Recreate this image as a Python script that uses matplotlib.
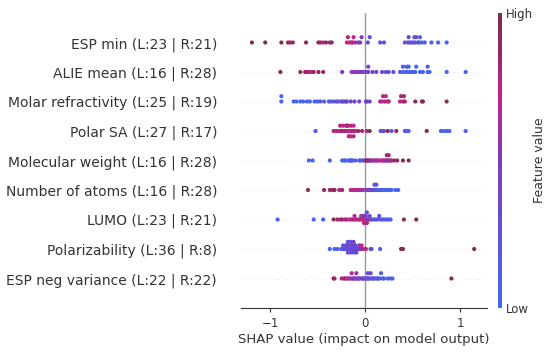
import numpy as np
import matplotlib
matplotlib.use("Agg")
import matplotlib.pyplot as plt
from matplotlib.colors import LinearSegmentedColormap

# noms des variables, du haut vers le bas
features = ["ESP min (L:23 | R:21)", "ALIE mean (L:16 | R:28)", "Molar refractivity (L:25 | R:19)",
            "Polar SA (L:27 | R:17)", "Molecular weight (L:16 | R:28)", "Number of atoms (L:16 | R:28)",
            "LUMO (L:23 | R:21)", "Polarizability (L:36 | R:8)", "ESP neg variance (L:22 | R:22)"]

shap_esp_min = [-1.19, -1.05, -0.88, -0.81, -0.79, -0.76, -0.62, -0.49, -0.47, -0.44, -0.41, -0.37, -0.35,
                -0.19, -0.18, -0.16, -0.14, -0.13, -0.12, -0.10, -0.07, -0.05, -0.035,
                0.03, 0.05, 0.16, 0.20, 0.42, 0.45, 0.46, 0.47, 0.49, 0.51, 0.52, 0.53, 0.54, 0.56, 0.57,
                0.58, 0.60, 0.63, 0.70, 0.77, 0.86]
val_esp_min = [0.95, 0.95, 0.95, 0.9, 0.85, 0.9, 0.95, 0.9, 0.85, 0.8, 0.9, 0.85, 0.9,
               0.75, 0.8, 0.75, 0.7, 0.75, 0.7, 0.6, 0.5, 0.55, 0.45,
               0.35, 0.3, 0.3, 0.35, 0.3, 0.25, 0.35, 0.3, 0.2, 0.3, 0.2, 0.25, 0.3, 0.15, 0.2,
               0.15, 0.1, 0.1, 0.05, 0.05, 0.02]

shap_alie = [-0.89, -0.68, -0.63, -0.61, -0.58, -0.55, -0.54, -0.49, -0.44, -0.24, -0.14, -0.11, -0.09,
             -0.06, -0.04, -0.02,
             0.01, 0.035, 0.035, 0.08, 0.12, 0.18, 0.22, 0.25, 0.30, 0.37, 0.40, 0.40, 0.43, 0.44, 0.45,
             0.46, 0.48, 0.50, 0.51, 0.53, 0.54, 0.58, 0.61, 0.66, 0.66, 0.68, 0.86, 1.06]
val_alie = [0.95, 0.9, 0.8, 0.85, 0.8, 0.8, 0.85, 0.9, 0.85, 0.5, 0.6, 0.55, 0.5,
            0.5, 0.45, 0.5,
            0.4, 0.45, 0.4, 0.4, 0.35, 0.35, 0.3, 0.35, 0.3, 0.25, 0.1, 0.15, 0.1, 0.15, 0.1,
            0.05, 0.1, 0.1, 0.05, 0.1, 0.05, 0.05, 0.1, 0.05, 0.1, 0.05, 0.05, 0.05]

shap_molar = [-0.88, -0.88, -0.75, -0.72, -0.68, -0.65, -0.61, -0.58, -0.53, -0.50, -0.47, -0.43, -0.38,
              -0.36, -0.33, -0.30, -0.28, -0.25, -0.24, -0.22, -0.20, -0.19, -0.15, -0.11, -0.06,
              0.01, 0.02, 0.05, 0.16, 0.18, 0.19, 0.21, 0.22, 0.24, 0.25, 0.37, 0.38, 0.40, 0.41, 0.42,
              0.53, 0.60, 0.61, 0.86]
val_molar = [0.05, 0.05, 0.05, 0.05, 0.1, 0.05, 0.1, 0.1, 0.05, 0.1, 0.1, 0.15, 0.1,
             0.15, 0.2, 0.25, 0.3, 0.35, 0.3, 0.35, 0.4, 0.35, 0.4, 0.45, 0.4,
             0.5, 0.45, 0.45, 0.7, 0.75, 0.72, 0.75, 0.7, 0.8, 0.75, 0.75, 0.8, 0.78, 0.82, 0.8,
             0.95, 0.9, 0.95, 0.95]

shap_polar = [-0.52, -0.33, -0.30, -0.27, -0.26, -0.25, -0.24, -0.23, -0.22, -0.21, -0.20, -0.19, -0.19,
              -0.18, -0.18, -0.17, -0.16, -0.15, -0.15, -0.14, -0.13, -0.12, -0.12, -0.11, -0.10, -0.07,
              -0.03,
              0.02, 0.05, 0.165, 0.175, 0.20, 0.24, 0.28, 0.33, 0.42, 0.44, 0.46, 0.65, 0.80, 0.83, 0.86,
              0.89, 1.06]
val_polar = [0.2, 0.7, 0.8, 0.75, 0.8, 0.75, 0.85, 0.7, 0.8, 0.75, 0.7, 0.8, 0.75,
             0.7, 0.8, 0.75, 0.7, 0.78, 0.72, 0.75, 0.8, 0.7, 0.75, 0.8, 0.75, 0.85,
             0.85,
             0.75, 0.95, 0.3, 0.2, 0.4, 0.95, 0.2, 0.9, 0.15, 0.1, 0.15, 0.95, 0.1, 0.05, 0.1,
             0.05, 0.05]

shap_mw = [-0.59, -0.55, -0.37, -0.24, -0.22, -0.21, -0.18, -0.16, -0.15, -0.14, -0.13, -0.10, -0.06,
           -0.05, -0.03, -0.01,
           0.01, 0.02, 0.03, 0.04, 0.05, 0.06, 0.08, 0.09, 0.105, 0.12, 0.13, 0.14, 0.16, 0.18, 0.19,
           0.21, 0.22, 0.23, 0.23, 0.24, 0.25, 0.25, 0.27, 0.28, 0.31, 0.34, 0.40, 0.46]
val_mw = [0.05, 0.05, 0.05, 0.1, 0.05, 0.1, 0.1, 0.05, 0.1, 0.15, 0.1, 0.15, 0.1,
          0.2, 0.15, 0.25,
          0.95, 0.9, 0.6, 0.95, 0.55, 0.9, 0.5, 0.6, 0.55, 0.6, 0.65, 0.55, 0.7, 0.75, 0.7,
          0.8, 0.4, 0.75, 0.85, 0.8, 0.45, 0.8, 0.85, 0.8, 0.9, 0.85, 0.95, 0.95]

shap_atoms = [-0.60, -0.43, -0.37, -0.34, -0.32, -0.27, -0.24, -0.15, -0.13, -0.11, -0.09, -0.08, -0.06,
              -0.04, -0.03, -0.02,
              0.01, 0.02, 0.03, 0.04, 0.05, 0.06, 0.07, 0.08, 0.09, 0.10, 0.10, 0.11, 0.12, 0.12, 0.13,
              0.14, 0.15, 0.16, 0.17, 0.18, 0.20, 0.21, 0.23, 0.25, 0.26, 0.28, 0.32, 0.35]
val_atoms = [0.95, 0.9, 0.85, 0.85, 0.9, 0.8, 0.85, 0.7, 0.75, 0.7, 0.75, 0.65, 0.7,
             0.6, 0.65, 0.6,
             0.55, 0.5, 0.5, 0.45, 0.45, 0.4, 0.35, 0.4, 0.3, 0.25, 0.2, 0.3, 0.2, 0.25, 0.2,
             0.15, 0.2, 0.15, 0.1, 0.15, 0.1, 0.1, 0.05, 0.1, 0.05, 0.1, 0.05, 0.05]

shap_lumo = [-0.92, -0.54, -0.44, -0.33, -0.29, -0.26, -0.24, -0.21, -0.19, -0.16, -0.14, -0.12, -0.11,
             -0.10, -0.08, -0.06, -0.05, -0.04, -0.03, -0.03, -0.02, -0.01, -0.01,
             0.01, 0.01, 0.02, 0.02, 0.03, 0.04, 0.05, 0.06, 0.08, 0.10, 0.12, 0.14, 0.15, 0.17, 0.19,
             0.21, 0.23, 0.25, 0.27, 0.41, 0.54]
val_lumo = [0.05, 0.05, 0.1, 0.9, 0.85, 0.8, 0.85, 0.75, 0.8, 0.7, 0.75, 0.8, 0.7,
            0.75, 0.8, 0.7, 0.75, 0.8, 0.75, 0.35, 0.7, 0.8, 0.75,
            0.75, 0.4, 0.8, 0.3, 0.35, 0.75, 0.3, 0.35, 0.3, 0.25, 0.3, 0.2, 0.25, 0.2, 0.15,
            0.2, 0.15, 0.1, 0.15, 0.95, 0.95]

shap_polariz = [-0.37, -0.32, -0.29, -0.25, -0.24, -0.23, -0.22, -0.21, -0.20, -0.19, -0.19, -0.18, -0.18,
                -0.17, -0.16, -0.16, -0.15, -0.15, -0.14, -0.14, -0.13, -0.13, -0.12, -0.12, -0.11, -0.11,
                -0.10, -0.10, -0.09, -0.08, -0.07, -0.06, -0.05, -0.04, -0.035, -0.02,
                0.01, 0.06, 0.07, 0.16, 0.38, 0.39, 0.40, 1.15]
val_polariz = [0.05, 0.05, 0.1, 0.15, 0.1, 0.2, 0.25, 0.3, 0.2, 0.3, 0.35, 0.25, 0.3,
               0.35, 0.3, 0.4, 0.35, 0.3, 0.4, 0.3, 0.35, 0.4, 0.3, 0.4, 0.35, 0.3,
               0.4, 0.35, 0.3, 0.35, 0.4, 0.45, 0.5, 0.45, 0.7, 0.75,
               0.75, 0.95, 0.15, 0.1, 0.95, 0.9, 0.95, 0.95]

shap_espneg = [-0.33, -0.32, -0.245, -0.22, -0.21, -0.19, -0.18, -0.16, -0.15, -0.14, -0.13, -0.12, -0.11,
               -0.10, -0.09, -0.08, -0.07, -0.06, -0.05, -0.03, -0.02, -0.01,
               0.01, 0.02, 0.03, 0.03, 0.04, 0.05, 0.06, 0.07, 0.08, 0.09, 0.10, 0.12, 0.13, 0.14, 0.16,
               0.17, 0.19, 0.20, 0.24, 0.27, 0.29, 0.91]
val_espneg = [0.95, 0.85, 0.8, 0.75, 0.85, 0.7, 0.6, 0.75, 0.5, 0.65, 0.45, 0.7, 0.5,
              0.4, 0.6, 0.45, 0.35, 0.55, 0.4, 0.45, 0.3, 0.5,
              0.35, 0.25, 0.3, 0.4, 0.2, 0.3, 0.25, 0.2, 0.3, 0.15, 0.2, 0.25, 0.15, 0.2, 0.1,
              0.15, 0.1, 0.1, 0.05, 0.15, 0.1, 0.95]

rows = [(shap_esp_min, val_esp_min), (shap_alie, val_alie), (shap_molar, val_molar),
        (shap_polar, val_polar), (shap_mw, val_mw), (shap_atoms, val_atoms),
        (shap_lumo, val_lumo), (shap_polariz, val_polariz), (shap_espneg, val_espneg)]

cmap = LinearSegmentedColormap.from_list(
    "shapish", [(0, "#4069f2"), (0.5, "#7e3cc2"), (0.72, "#c42486"), (0.87, "#962862"), (1, "#7a2d4d")])
axis_color = "#333333"


# empilement "beeswarm" à la shap
def swarm_offsets(shaps, row_height=0.4, nbins=100):
    shaps = np.asarray(shaps, dtype=float)
    quant = np.round(nbins * (shaps - shaps.min()) / (shaps.max() - shaps.min() + 1e-8))
    inds = np.argsort(quant, kind="stable")
    ys = np.zeros(len(shaps))
    layer, last_bin = 0, -1
    for ind in inds:
        if quant[ind] != last_bin:
            layer = 0
        ys[ind] = np.ceil(layer / 2) * ((layer % 2) * 2 - 1)
        layer += 1
        last_bin = quant[ind]
    ys *= 0.9 * (row_height / np.max(ys + 1))
    return ys


fig = plt.figure(figsize=(5.5, 3.53), dpi=100)
ax = fig.add_axes([241 / 550, 1 - 308 / 353, 246 / 550, 295 / 353])

n = len(features)
ax.axvline(0, color="#999999", zorder=-1, lw=1)
for i, (s, v) in enumerate(rows):
    pos = n - 1 - i
    ax.axhline(pos, color="#cccccc", lw=0.5, dashes=(1, 5), zorder=-1)
    ys = swarm_offsets(s)
    ax.scatter(s, pos + ys, c=v, cmap=cmap, vmin=0, vmax=1, s=9, linewidth=0, zorder=3)

ax.set_xlim(-1.305, 1.285)
ax.set_ylim(-1, n)
ax.set_yticks(range(n))
ax.set_yticklabels(features[::-1], fontsize=10, color=axis_color)
ax.yaxis.set_ticks_position("none")
ax.tick_params("y", length=15, pad=2.2)
ax.xaxis.set_ticks_position("bottom")
ax.set_xticks([-1, 0, 1])
ax.tick_params("x", labelsize=8.5, color=axis_color, labelcolor=axis_color, length=3)
for sp in ["right", "top", "left"]:
    ax.spines[sp].set_visible(False)
ax.spines["bottom"].set_color(axis_color)
ax.set_xlabel("SHAP value (impact on model output)", fontsize=9.5, color=axis_color, labelpad=2)

cax = fig.add_axes([498 / 550, 1 - 308 / 353, 4 / 550, 295 / 353])
m = plt.cm.ScalarMappable(cmap=cmap)
m.set_array([0, 1])
cb = fig.colorbar(m, cax=cax, ticks=[0, 1])
cb.set_ticklabels(["Low", "High"])
cb.ax.tick_params(labelsize=8.5, length=0, labelcolor=axis_color, pad=3)
cb.set_label("Feature value", size=9, color=axis_color, labelpad=0)
cb.outline.set_visible(False)

fig.savefig("out.png", dpi=100)
